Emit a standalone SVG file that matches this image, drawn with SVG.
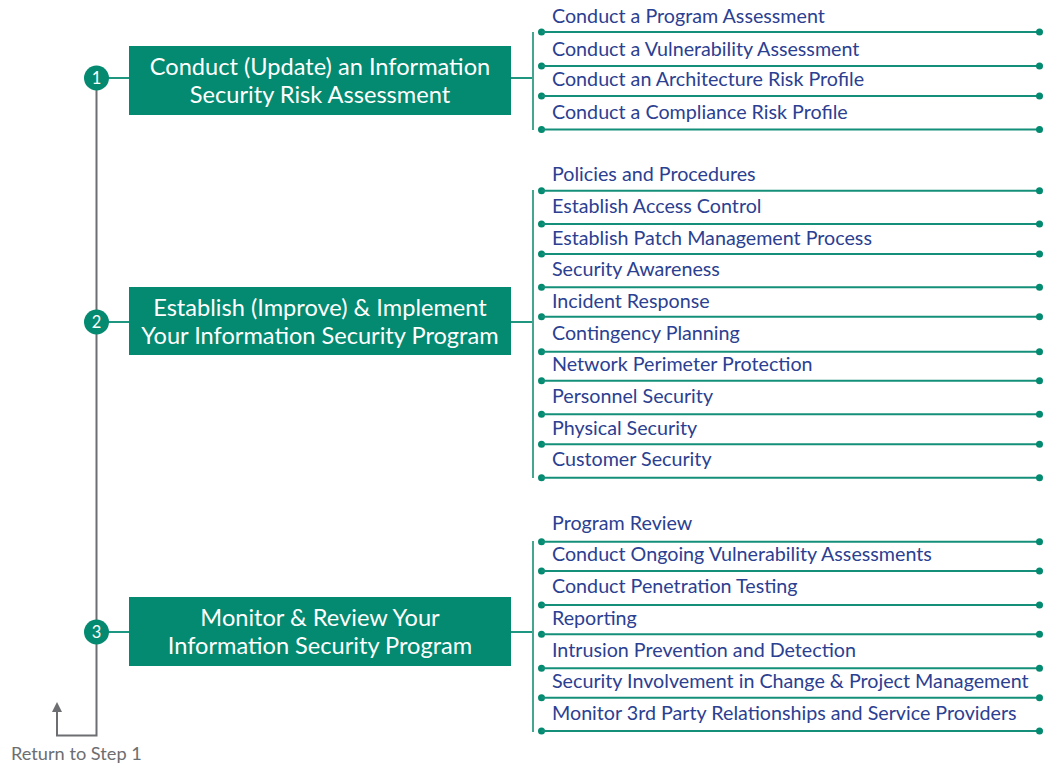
<svg xmlns="http://www.w3.org/2000/svg" width="1052" height="764" viewBox="0 0 1052 764">
<defs>
<style>
.box{fill:#038a70}
.btxt{font-family:Lato,"Noto Sans",sans-serif;font-size:23.6px;fill:#ffffff;text-anchor:middle}
.circ{fill:#038a70}
.ctxt{font-family:Lato,"Noto Sans",sans-serif;font-size:16.5px;fill:#ffffff;text-anchor:middle}
.item{font-family:Lato,"Noto Sans",sans-serif;font-size:19.7px;fill:#2b4091}
.iline{stroke:#14907a;stroke-width:2;fill:none}
.dot{fill:#038a70}
.brk{stroke:#45a68f;stroke-width:2;fill:none}
.conn{stroke:#1f967f;stroke-width:2;fill:none}
.gray{stroke:#6d6e71;stroke-width:2;fill:none}
.ret{font-family:Lato,"Noto Sans",sans-serif;font-size:18.2px;fill:#6d6e71}
</style>
<marker id="arr" markerWidth="10" markerHeight="10" refX="5" refY="5" orient="auto" markerUnits="userSpaceOnUse" viewBox="0 0 10 10">
<path d="M0,0 L10,5 L0,10 z" fill="#6d6e71"/>
</marker>
<g id="dl">
<circle cx="541.5" cy="0" r="3.5" class="dot"/>
<line x1="541.5" y1="0" x2="1039.5" y2="0" class="iline"/>
<circle cx="1039.5" cy="0" r="3.5" class="dot"/>
</g>
</defs>
<rect width="1052" height="764" fill="#ffffff"/>

<g id="connectors">
<path class="gray" d="M96.5,78 V735.5 H57 V707" marker-end="url(#arr)"/>
<line class="conn" x1="108" y1="78" x2="129" y2="78"/>
<line class="conn" x1="108" y1="322" x2="129" y2="322"/>
<line class="conn" x1="108" y1="632" x2="129" y2="632"/>
<line class="conn" x1="511" y1="78" x2="533" y2="78"/>
<line class="conn" x1="511" y1="322" x2="533" y2="322"/>
<line class="conn" x1="511" y1="632" x2="533" y2="632"/>
<line class="brk" x1="533" y1="32" x2="533" y2="130"/>
<line class="brk" x1="533" y1="190" x2="533" y2="478"/>
<line class="brk" x1="533" y1="541" x2="533" y2="732"/>
</g>

<g id="return-label">
<text class="ret" x="11" y="760">Return to Step 1</text>
</g>

<g id="step1">
<circle class="circ" cx="96.5" cy="78" r="12.5"/>
<text class="ctxt" x="96.5" y="84">1</text>
<rect class="box" x="129" y="46" width="382" height="69"/>
<text class="btxt" x="320" y="74.5">Conduct (Update) an Information</text>
<text class="btxt" x="320" y="102.5">Security Risk Assessment</text>
</g>

<g id="step2">
<circle class="circ" cx="96.5" cy="322" r="12.5"/>
<text class="ctxt" x="96.5" y="328">2</text>
<rect class="box" x="129" y="287" width="382" height="68"/>
<text class="btxt" x="320" y="315.5">Establish (Improve) &amp; Implement</text>
<text class="btxt" x="320" y="343.5">Your Information Security Program</text>
</g>

<g id="step3">
<circle class="circ" cx="96.5" cy="632" r="12.5"/>
<text class="ctxt" x="96.5" y="638">3</text>
<rect class="box" x="129" y="597" width="382" height="69"/>
<text class="btxt" x="320" y="625.5">Monitor &amp; Review Your</text>
<text class="btxt" x="320" y="653.5">Information Security Program</text>
</g>

<g id="items1">
<use href="#dl" y="32"/><use href="#dl" y="66"/><use href="#dl" y="96"/><use href="#dl" y="129.5"/>
<text class="item" x="552" y="23">Conduct a Program Assessment</text>
<text class="item" x="552" y="56">Conduct a Vulnerability Assessment</text>
<text class="item" x="552" y="86">Conduct an Architecture Risk Profile</text>
<text class="item" x="552" y="119">Conduct a Compliance Risk Profile</text>
</g>

<g id="items2">
<use href="#dl" y="190.7"/><use href="#dl" y="224"/><use href="#dl" y="254"/><use href="#dl" y="287.3"/><use href="#dl" y="316.7"/>
<use href="#dl" y="351.7"/><use href="#dl" y="380.7"/><use href="#dl" y="414.3"/><use href="#dl" y="444.3"/><use href="#dl" y="477.7"/>
<text class="item" x="552" y="181">Policies and Procedures</text>
<text class="item" x="552" y="213">Establish Access Control</text>
<text class="item" x="552" y="245">Establish Patch Management Process</text>
<text class="item" x="552" y="276">Security Awareness</text>
<text class="item" x="552" y="308">Incident Response</text>
<text class="item" x="552" y="340">Contingency Planning</text>
<text class="item" x="552" y="371">Network Perimeter Protection</text>
<text class="item" x="552" y="403">Personnel Security</text>
<text class="item" x="552" y="435">Physical Security</text>
<text class="item" x="552" y="466">Customer Security</text>
</g>

<g id="items3">
<use href="#dl" y="541.7"/><use href="#dl" y="571"/><use href="#dl" y="605"/><use href="#dl" y="634.3"/><use href="#dl" y="668.3"/><use href="#dl" y="697.7"/><use href="#dl" y="731"/>
<text class="item" x="552" y="530">Program Review</text>
<text class="item" x="552" y="561">Conduct Ongoing Vulnerability Assessments</text>
<text class="item" x="552" y="593">Conduct Penetration Testing</text>
<text class="item" x="552" y="625">Reporting</text>
<text class="item" x="552" y="657">Intrusion Prevention and Detection</text>
<text class="item" x="552" y="688">Security Involvement in Change &amp; Project Management</text>
<text class="item" x="552" y="720">Monitor 3rd Party Relationships and Service Providers</text>
</g>
</svg>
